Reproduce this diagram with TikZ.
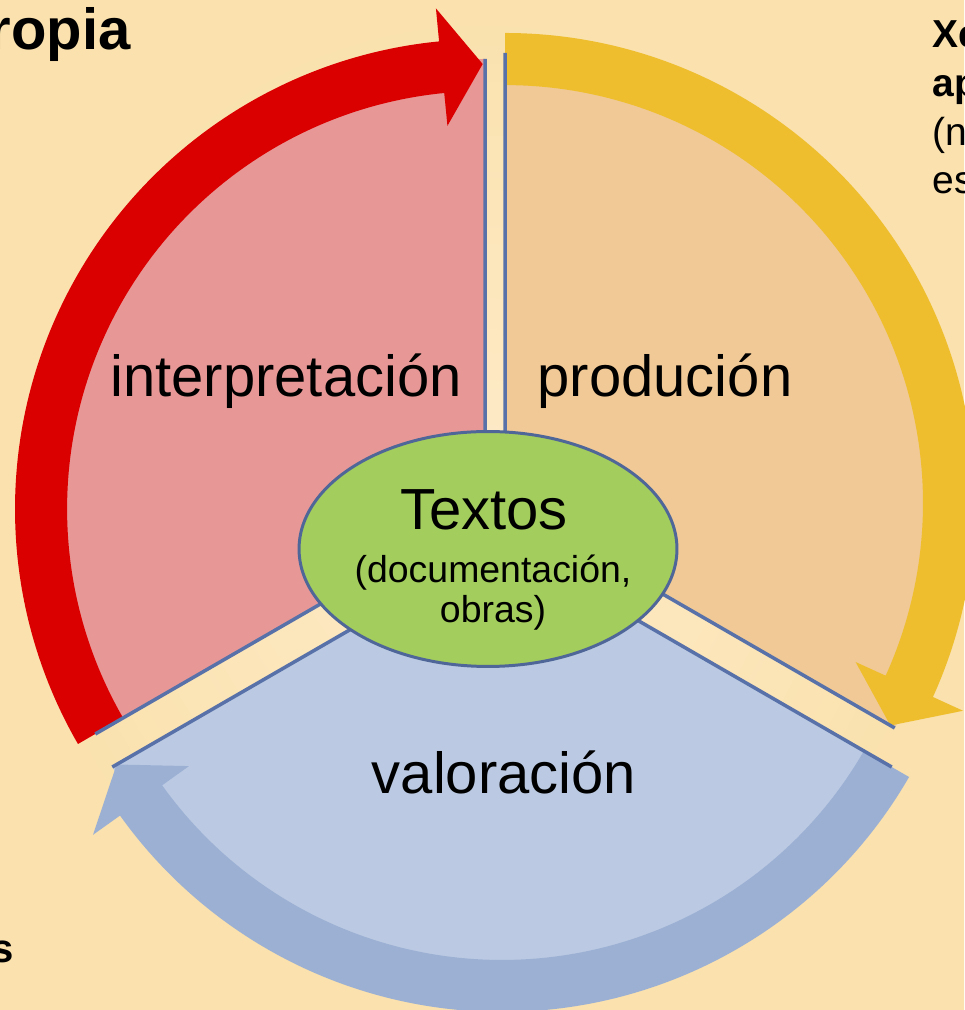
\documentclass[tikz,border=0pt]{standalone}
\usepackage{fontspec}
\setmainfont{Liberation Sans}
\usetikzlibrary{shapes.geometric}

\definecolor{bgin}{HTML}{FEEBC9}
\definecolor{bgout}{HTML}{FAE1AD}
\definecolor{pinkfill}{HTML}{E79896}
\definecolor{orangefill}{HTML}{F0C996}
\definecolor{bluefill}{HTML}{BBCAE2}
\definecolor{arrowred}{HTML}{DB0000}
\definecolor{arrowyellow}{HTML}{EEBE2E}
\definecolor{arrowblue}{HTML}{9CB0D4}
\definecolor{rimblue}{HTML}{5872A9}
\definecolor{hubgreen}{HTML}{A3CD5C}
\definecolor{hubline}{HTML}{4F6699}

\tikzset{
  rim/.style = {draw=rimblue, line width=2pt, line join=round},
  hub/.style = {ellipse, draw=hubline, fill=hubgreen, line width=1.7pt,
    minimum width=7.56cm, minimum height=4.7cm, inner sep=0pt},
  phase/.style = {inner sep=0pt, anchor=base,
    font=\fontsize{33}{40}\selectfont},% nome de cada fase
  hubsmall/.style = {inner sep=0pt, anchor=base,
    font=\fontsize{21.3}{25}\selectfont},
  cutbig/.style = {inner sep=0pt, font=\bfseries\fontsize{33}{40}\selectfont},
  cutsmall/.style = {inner sep=0pt, anchor=base west,
    font=\fontsize{22.2}{27}\selectfont}% textos cortados no bordo
}

% frecha circular: centro, angulo da cola, base da punta, punta, cor
\newcommand{\cyclearrow}[5]{%
  \begin{scope}[shift={(#1)}]
    \fill[#5] (#2:470) arc[start angle=#2, end angle=#3, radius=9.4cm]
      -- (#3:503) -- (#4:445) -- (#3:385) -- (#3:418)
      arc[start angle=#3, end angle=#2, radius=8.36cm] -- cycle;
  \end{scope}}

\begin{document}
\begin{tikzpicture}[x=0.02cm, y=0.02cm]
\useasboundingbox (0,0) rectangle (964,1010);
\shade[inner color=bgin, outer color=bgout] (0,0) rectangle (964,1010);

\coordinate (pk) at (485,501);
\coordinate (or) at (505,507);
\coordinate (bl) at (502,468);

% sectores
\fill[pinkfill] (pk) -- ++(90:450) arc[start angle=90, end angle=210, radius=9cm] -- cycle;
\fill[orangefill] (or) -- ++(90:450) arc[start angle=90, end angle=-30, radius=9cm] -- cycle;
\fill[bluefill] (bl) -- ++(210:450) arc[start angle=210, end angle=330, radius=9cm] -- cycle;

% frechas
\cyclearrow{pk}{210}{95.6}{90.3}{arrowred}
\cyclearrow{or}{90}{-24.4}{-30}{arrowyellow}
\cyclearrow{bl}{330}{215.6}{210}{arrowblue}

% bordos rectos
\draw[rim] (pk) ++(90:450) -- (pk) -- ++(210:450);
\draw[rim] (or) ++(90:450) -- (or) -- ++(-30:450);
\draw[rim] (bl) ++(210:450) -- (bl) -- ++(330:450);

\node[hub] (hub) at (488,461) {};
\node[phase] (textos) at (484,480) {Textos};
\node[hubsmall] (docs) at (493,427) {(documentación,};
\node[hubsmall] (obras) at (493,387) {obras)};

\node[phase] (interp) at (286,613) {interpretación};
\node[phase] (produc) at (665,613) {produción};
\node[phase] (valor) at (504,216) {valoración};

\node[cutbig, anchor=base east] (ropia) at (131,960) {ropia};
\node[cutbig, anchor=base east, font=\bfseries\fontsize{22.8}{27}\selectfont] (sfin) at (14,47) {s};
\node[cutsmall, font=\bfseries\fontsize{22.2}{27}\selectfont] (xe) at (932,962) {Xe};
\node[cutsmall, font=\bfseries\fontsize{22.2}{27}\selectfont] (ap) at (932,913) {ap};
\node[cutsmall] (paren) at (932,864) {(n};
\node[cutsmall] (es) at (932,816) {es};
\end{tikzpicture}
\end{document}
